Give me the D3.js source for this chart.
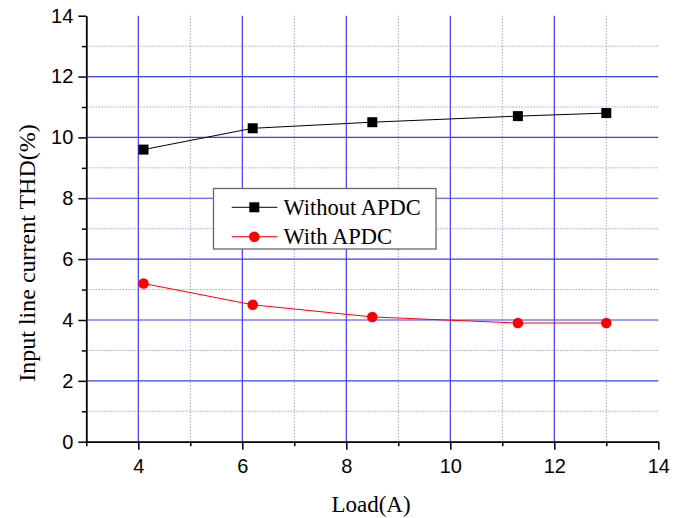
<!DOCTYPE html>
<html><head><meta charset="utf-8">
<script src="https://cdn.jsdelivr.net/npm/d3@7"></script>
<style>body{margin:0;background:#fff}</style>
</head><body>
<svg id="c" width="687" height="518"></svg>
<script>
const loadA = [4.1, 6.2, 8.5, 11.3, 13];
const withoutAPDC = [9.6, 10.3, 10.5, 10.7, 10.8];
const withAPDC = [5.2, 4.5, 4.1, 3.9, 3.9];
const seriesNames = ["Without APDC", "With APDC"];
const xMajor = [4, 6, 8, 10, 12, 14];
const xMinor = [3, 5, 7, 9, 11, 13];
const yMajor = [0, 2, 4, 6, 8, 10, 12, 14];
const yMinor = [1, 3, 5, 7, 9, 11, 13];

const svg = d3.select("#c");
const L = 86.3, R = 658.3, T = 15.7, B = 441.7;
const x = d3.scaleLinear().domain([3, 14]).range([L, R]);
const y = d3.scaleLinear().domain([0, 14]).range([B, T]);

// grid
const g = svg.append("g");
g.selectAll(".hmin").data(yMinor).join("line")
  .attr("x1", L).attr("x2", R).attr("y1", d => y(d)).attr("y2", d => y(d))
  .attr("stroke", "#9f9ff5").attr("stroke-width", 1).attr("stroke-dasharray", "1.5,1.5");
g.selectAll(".vmin").data(xMinor.filter(d => d > 3)).join("line")
  .attr("y1", T).attr("y2", B).attr("x1", d => x(d)).attr("x2", d => x(d))
  .attr("stroke", "#9f9ff5").attr("stroke-width", 1).attr("stroke-dasharray", "1.5,1.5");
g.selectAll(".hmaj").data(yMajor.filter(d => d > 0 && d < 14)).join("line")
  .attr("x1", L).attr("x2", R).attr("y1", d => y(d)).attr("y2", d => y(d))
  .attr("stroke", "#3c3cff").attr("stroke-width", 1.2);
g.selectAll(".vmaj").data(xMajor.filter(d => d < 14)).join("line")
  .attr("y1", T).attr("y2", B).attr("x1", d => x(d)).attr("x2", d => x(d))
  .attr("stroke", "#3c3cff").attr("stroke-width", 1.2);

// axes
function styleAxis(sel){
  sel.selectAll("path").attr("stroke", "#000").attr("stroke-width", 1.8);
  sel.selectAll("line").attr("stroke", "#000").attr("stroke-width", 1.5);
  sel.selectAll("text").attr("font-family", "Liberation Sans, Arial, sans-serif")
    .attr("font-size", 20).attr("fill", "#000");
}
const xa = svg.append("g").attr("transform", `translate(0,${B})`)
  .call(d3.axisBottom(x).tickValues(xMajor).tickSize(8).tickSizeOuter(0).tickPadding(9).tickFormat(d3.format("d")));
styleAxis(xa);
const xm = svg.append("g").attr("transform", `translate(0,${B})`)
  .call(d3.axisBottom(x).tickValues(xMinor).tickSize(4.5).tickSizeOuter(0).tickFormat(""));
styleAxis(xm); xm.select("path").remove();
const ya = svg.append("g").attr("transform", `translate(${L},0)`)
  .call(d3.axisLeft(y).tickValues(yMajor).tickSize(8).tickSizeOuter(0).tickPadding(5).tickFormat(d3.format("d")));
styleAxis(ya);
const ym = svg.append("g").attr("transform", `translate(${L},0)`)
  .call(d3.axisLeft(y).tickValues(yMinor).tickSize(4.5).tickSizeOuter(0).tickFormat(""));
styleAxis(ym); ym.select("path").remove();

// titles
svg.append("text").attr("x", 371).attr("y", 512).attr("text-anchor", "middle")
  .attr("font-family", "Liberation Serif, Times New Roman, serif").attr("font-size", 23)
  .text("Load(A)");
svg.append("text").attr("transform", `translate(35,253) rotate(-90)`).attr("text-anchor", "middle")
  .attr("font-family", "Liberation Serif, Times New Roman, serif").attr("font-size", 24)
  .text("Input line current THD(%)");

// lines
const line = d3.line().x(d => x(d[0])).y(d => y(d[1]));
const d1 = loadA.map((v, i) => [v, withoutAPDC[i]]);
const d2 = loadA.map((v, i) => [v, withAPDC[i]]);
svg.append("path").datum(d1).attr("d", line).attr("fill", "none").attr("stroke", "#000").attr("stroke-width", 1);
svg.append("path").datum(d2).attr("d", line).attr("fill", "none").attr("stroke", "#ff0000").attr("stroke-width", 1);
svg.selectAll(".sq").data(d1).join("rect")
  .attr("x", d => x(d[0]) - 5).attr("y", d => y(d[1]) - 5).attr("width", 10).attr("height", 10).attr("fill", "#000");
svg.selectAll(".ci").data(d2).join("circle")
  .attr("cx", d => x(d[0])).attr("cy", d => y(d[1])).attr("r", 5.3).attr("fill", "#ff0000");

// legend
const lg = svg.append("g");
lg.append("rect").attr("x", 213.5).attr("y", 188.5).attr("width", 222.5).attr("height", 60.5)
  .attr("fill", "#fff").attr("stroke", "#666").attr("stroke-width", 1.3);
const ly = [207.3, 236.7], lc = ["#000", "#ff0000"];
seriesNames.forEach((n, i) => {
  lg.append("line").attr("x1", 231.7).attr("x2", 277.3).attr("y1", ly[i]).attr("y2", ly[i]).attr("stroke", lc[i]).attr("stroke-width", 1);
  if (i === 0) lg.append("rect").attr("x", 254.3 - 5).attr("y", ly[i] - 5).attr("width", 10).attr("height", 10).attr("fill", "#000");
  else lg.append("circle").attr("cx", 254.3).attr("cy", ly[i]).attr("r", 5.3).attr("fill", "#ff0000");
  lg.append("text").attr("x", 283.5).attr("y", ly[i] + 7.5)
    .attr("font-family", "Liberation Serif, Times New Roman, serif").attr("font-size", 22.5).text(n);
});
</script>
</body></html>
